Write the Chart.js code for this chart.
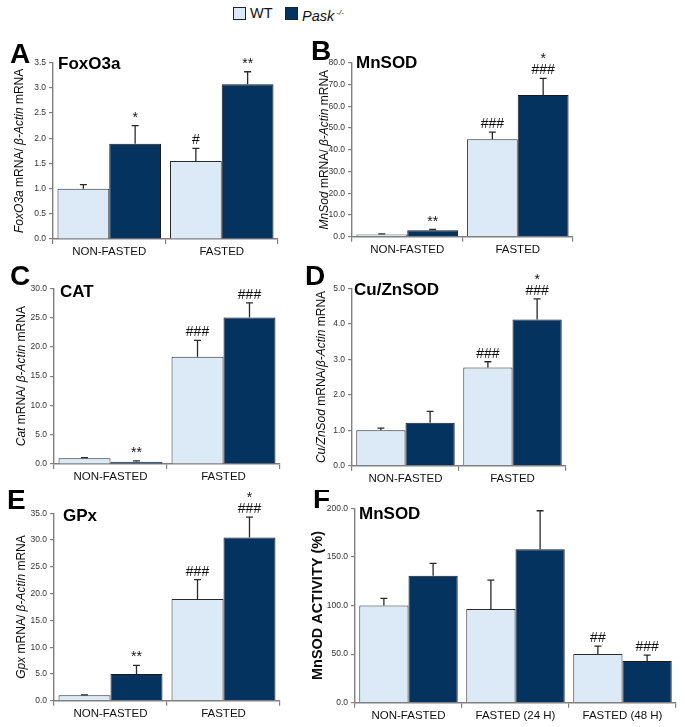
<!DOCTYPE html>
<html>
<head>
<meta charset="utf-8">
<script src="https://cdn.jsdelivr.net/npm/chart.js@4.4.1/dist/chart.umd.min.js"></script>
<style>
  body { margin: 0; background: #fff; width: 685px; height: 727px; position: relative; overflow: hidden;
         font-family: "Liberation Sans", Arial, sans-serif; }
  canvas { position: absolute; }
  .sw { position: absolute; top: 7px; width: 11px; height: 11px; border: 1px solid #222; }
  .lt { position: absolute; top: 5px; font-size: 14.5px; color: #111; line-height: 16px; }
  .lt sup { font-size: 8px; vertical-align: 6px; margin-left: 2px; }
</style>
</head>
<body>
<span class="sw" style="left:233px; background:#dce9f6"></span><span class="lt" style="left:250px">WT</span>
<span class="sw" style="left:285px; background:#04335f"></span><span class="lt" style="left:302px"><i>Pask</i><sup><i>-/-</i></sup></span>
<canvas id="cA"></canvas>
<canvas id="cB"></canvas>
<canvas id="cC"></canvas>
<canvas id="cD"></canvas>
<canvas id="cE"></canvas>
<canvas id="cF"></canvas>
<script>
// ---- data ----
var cats2 = ['NON-FASTED', 'FASTED'];
var cats3 = ['NON-FASTED', 'FASTED (24 H)', 'FASTED (48 H)'];

var foxoWT = [1.0, 1.55], foxoWTErr = [0.08, 0.25];
var foxoKO = [1.89, 3.07], foxoKOErr = [0.36, 0.25];
var foxoWTMarks = ['', '#'], foxoKOMarks = ['*', '**'];

var mnsodWT = [1.0, 44.8], mnsodWTErr = [0.3, 3.3];
var mnsodKO = [3.0, 65.1], mnsodKOErr = [0.3, 7.7];
var mnsodWTMarks = ['', '###'], mnsodKOMarks = ['**', '*\n###'];

var catWT = [1.0, 18.3], catWTErr = [0.1, 2.8];
var catKO = [0.4, 25.0], catKOErr = [0.15, 2.5];
var catWTMarks = ['', '###'], catKOMarks = ['**', '###'];

var cuznWT = [1.0, 2.77], cuznWTErr = [0.06, 0.16];
var cuznKO = [1.21, 4.12], cuznKOErr = [0.32, 0.58];
var cuznWTMarks = ['', '###'], cuznKOMarks = ['', '*\n###'];

var gpxWT = [1.0, 19.0], gpxWTErr = [0.1, 3.6];
var gpxKO = [5.0, 30.5], gpxKOErr = [1.6, 3.8];
var gpxWTMarks = ['', '###'], gpxKOMarks = ['**', '*\n###'];

var actWT = [100.0, 96.4, 50.1], actWTErr = [7.4, 29.8, 8.2];
var actKO = [130.7, 157.8, 42.9], actKOErr = [12.7, 39.7, 6.1];
var actWTMarks = ['', '', '##'], actKOMarks = ['', '', '###'];

// ---- styles ----
var FONT = '"Liberation Sans", Arial, sans-serif';
var WT_FILL = '#dce9f6';
var KO_FILL = '#04335f';
var AXIS = '#808080';

var panels = [
  { id: 'cA', letter: 'A', title: 'FoxO3a', box: [0, 40, 300, 222], plot: [53, 62.7, 278, 239],
    max: 3.5, step: 0.5, labels: cats2, wt: foxoWT, wtErr: foxoWTErr, ko: foxoKO, koErr: foxoKOErr,
    wtMarks: foxoWTMarks, koMarks: foxoKOMarks,
    yLabel: [['FoxO3a', 1], [' mRNA/ ', 0], ['\u03b2-Actin', 1], [' mRNA', 0]], yLabelX: 20,
    letterAt: [10, 63], titleAt: [58, 64] },
  { id: 'cB', letter: 'B', title: 'MnSOD', box: [300, 40, 385, 222], plot: [352, 62.7, 573, 236.7],
    max: 80, step: 10, labels: cats2, wt: mnsodWT, wtErr: mnsodWTErr, ko: mnsodKO, koErr: mnsodKOErr,
    wtMarks: mnsodWTMarks, koMarks: mnsodKOMarks,
    yLabel: [['MnSod', 1], [' mRNA/ ', 0], ['\u03b2-Actin', 1], [' mRNA', 0]], yLabelX: 325,
    letterAt: [311, 60], titleAt: [356, 63] },
  { id: 'cC', letter: 'C', title: 'CAT', box: [0, 262, 300, 228], plot: [54, 288.3, 280, 464],
    max: 30, step: 5, labels: cats2, wt: catWT, wtErr: catWTErr, ko: catKO, koErr: catKOErr,
    wtMarks: catWTMarks, koMarks: catKOMarks,
    yLabel: [['Cat', 1], [' mRNA/ ', 0], ['\u03b2-Actin', 1], [' mRNA', 0]], yLabelX: 22,
    letterAt: [10, 285], titleAt: [60, 292] },
  { id: 'cD', letter: 'D', title: 'Cu/ZnSOD', box: [300, 262, 385, 228], plot: [352, 288.3, 566, 465.7],
    max: 5, step: 1, labels: cats2, wt: cuznWT, wtErr: cuznWTErr, ko: cuznKO, koErr: cuznKOErr,
    wtMarks: cuznWTMarks, koMarks: cuznKOMarks,
    yLabel: [['Cu/ZnSod', 1], [' mRNA/', 0], ['\u03b2-Actin', 1], [' mRNA', 0]], yLabelX: 322,
    letterAt: [305, 285], titleAt: [354, 290] },
  { id: 'cE', letter: 'E', title: 'GPx', box: [0, 490, 300, 237], plot: [54, 513.3, 280, 700.7],
    max: 35, step: 5, labels: cats2, wt: gpxWT, wtErr: gpxWTErr, ko: gpxKO, koErr: gpxKOErr,
    wtMarks: gpxWTMarks, koMarks: gpxKOMarks,
    yLabel: [['Gpx', 1], [' mRNA/ ', 0], ['\u03b2-Actin', 1], [' mRNA', 0]], yLabelX: 22,
    letterAt: [7, 509], titleAt: [63, 516] },
  { id: 'cF', letter: 'F', title: 'MnSOD', box: [300, 490, 385, 237], plot: [355, 508.3, 676, 702.7],
    max: 200, step: 50, labels: cats3, wt: actWT, wtErr: actWTErr, ko: actKO, koErr: actKOErr,
    wtMarks: actWTMarks, koMarks: actKOMarks,
    yLabel: [['MnSOD ACTIVITY (%)', 2]], yLabelX: 318,
    letterAt: [313, 508], titleAt: [359, 514] }
];

function decor(p) {
  var bx = p.box[0], by = p.box[1];
  return {
    id: 'decor' + p.letter,
    afterDatasetsDraw: function(chart) {
      var ctx = chart.ctx, ys = chart.scales.y;
      chart.data.datasets.forEach(function(ds, di) {
        chart.getDatasetMeta(di).data.forEach(function(bar, i) {
          var top = ys.getPixelForValue(ds.data[i] + ds.err[i]);
          ctx.save();
          ctx.strokeStyle = '#2a2a2a';
          ctx.lineWidth = 1.3;
          ctx.beginPath();
          ctx.moveTo(bar.x, bar.y);
          ctx.lineTo(bar.x, top);
          ctx.moveTo(bar.x - 3.5, top);
          ctx.lineTo(bar.x + 3.5, top);
          ctx.stroke();
          var lines = ds.marks[i] ? ds.marks[i].split('\n') : [];
          ctx.fillStyle = '#111';
          ctx.font = '14px ' + FONT;
          ctx.textAlign = 'center';
          ctx.textBaseline = 'alphabetic';
          var base = top - 4;
          for (var k = lines.length - 1; k >= 0; k--) {
            ctx.fillText(lines[k], bar.x, base);
            base -= 11;
          }
          ctx.restore();
        });
      });
    },
    afterDraw: function(chart) {
      var ctx = chart.ctx, area = chart.chartArea;
      ctx.save();
      ctx.fillStyle = '#000';
      ctx.textAlign = 'left';
      ctx.textBaseline = 'alphabetic';
      ctx.font = 'bold 28px ' + FONT;
      ctx.fillText(p.letter, p.letterAt[0] - bx, p.letterAt[1] - by);
      ctx.font = 'bold 17px ' + FONT;
      ctx.textBaseline = 'middle';
      ctx.fillText(p.title, p.titleAt[0] - bx, p.titleAt[1] - by);

      // rotated y label with italic gene names
      ctx.translate(p.yLabelX - bx, (area.top + area.bottom) / 2);
      ctx.rotate(-Math.PI / 2);
      ctx.fillStyle = '#0a0a0a';
      var fonts = p.yLabel.map(function(s) {
        if (s[1] === 2) return 'bold 14.5px ' + FONT;
        return (s[1] ? 'italic ' : '') + '12px ' + FONT;
      });
      var total = 0;
      p.yLabel.forEach(function(s, i) { ctx.font = fonts[i]; total += ctx.measureText(s[0]).width; });
      var x = -total / 2;
      p.yLabel.forEach(function(s, i) {
        ctx.font = fonts[i];
        ctx.fillText(s[0], x, 0);
        x += ctx.measureText(s[0]).width;
      });
      ctx.restore();
    }
  };
}

function drawPanel(p) {
  var cv = document.getElementById(p.id);
  var b = p.box;
  cv.style.left = b[0] + 'px';
  cv.style.top = b[1] + 'px';
  cv.width = b[2];
  cv.height = b[3];
  var yW = p.plot[0] - b[0];
  var xH = b[1] + b[3] - p.plot[3];
  var padTop = p.plot[1] - b[1];
  var padRight = b[0] + b[2] - p.plot[2];

  new Chart(cv, {
    type: 'bar',
    data: {
      labels: p.labels,
      datasets: [
        { label: 'WT', data: p.wt, err: p.wtErr, marks: p.wtMarks, backgroundColor: WT_FILL,
          borderColor: '#2b2b2b', borderWidth: 1, categoryPercentage: 0.92, barPercentage: 1 },
        { label: 'Pask -/-', data: p.ko, err: p.koErr, marks: p.koMarks, backgroundColor: KO_FILL,
          borderColor: '#1a1a1a', borderWidth: 1, categoryPercentage: 0.92, barPercentage: 1 }
      ]
    },
    options: {
      responsive: false,
      animation: false,
      devicePixelRatio: 1,
      layout: { padding: { left: 0, top: padTop, right: padRight, bottom: 0 } },
      plugins: { legend: { display: false }, tooltip: { enabled: false } },
      scales: {
        x: {
          offset: true,
          grid: { offset: true, drawOnChartArea: false, drawTicks: true, tickLength: 5, color: AXIS, lineWidth: 1.2 },
          border: { display: true, color: AXIS, width: 1.4 },
          ticks: { font: { family: FONT, size: 11.5 }, color: '#111', padding: 1, maxRotation: 0, autoSkip: false },
          afterFit: function(s) { s.height = xH; }
        },
        y: {
          min: 0,
          max: p.max,
          grid: { drawOnChartArea: false, drawTicks: true, tickLength: 4, color: AXIS, lineWidth: 1.2 },
          border: { display: true, color: AXIS, width: 1.4 },
          ticks: { stepSize: p.step, font: { family: FONT, size: 8.5 }, color: '#333', padding: 3,
                   callback: function(v) { return Number(v).toFixed(1); } },
          afterFit: function(s) { s.width = yW; }
        }
      }
    },
    plugins: [decor(p)]
  });
}

panels.forEach(drawPanel);
</script>
</body>
</html>
